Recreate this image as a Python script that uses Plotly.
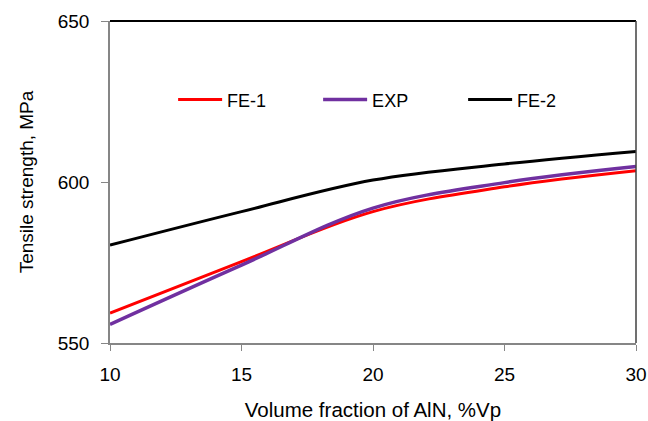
import plotly.graph_objects as go

x_vals = [10, 15, 20, 25, 30]
fe1 = [559.3, 575.3, 590.8, 598.5, 603.5]
exp = [555.8, 574.2, 591.9, 599.8, 604.8]
fe2 = [580.4, 590.8, 600.6, 605.6, 609.5]

series = [("FE-1", fe1, "#FF0000", 3), ("EXP", exp, "#7030A0", 3.5), ("FE-2", fe2, "#000000", 3)]

fig = go.Figure()
for name, vals, color, w in series:
    fig.add_trace(go.Scatter(x=x_vals, y=vals, name=name, mode="lines",
                             line=dict(color=color, width=w, shape="spline", smoothing=1.0)))

font = "Liberation Sans, Arial, sans-serif"
fig.update_layout(
    width=648, height=421,
    margin=dict(l=110, r=12, t=21, b=78),
    paper_bgcolor="white", plot_bgcolor="white",
    font=dict(family=font, color="#000000"),
    showlegend=True,
    legend=dict(orientation="h", x=0.12, y=0.755, xanchor="left", yanchor="middle",
                font=dict(size=18, family=font), itemwidth=44, entrywidth=86, entrywidthmode="pixels",
                bgcolor="rgba(0,0,0,0)"),
    xaxis=dict(range=[10, 30], tickvals=[10, 15, 20, 25, 30], showgrid=False, zeroline=False,
               automargin=False,
               showline=True, linecolor="#868686", linewidth=1.5, ticks="outside", ticklen=6,
               tickcolor="#868686", tickfont=dict(size=19, family=font), ticklabelstandoff=7,
               title=dict(text="Volume fraction of AlN, %Vp", font=dict(size=20.5, family=font), standoff=20)),
    yaxis=dict(range=[550, 650], tickvals=[550, 600, 650], showgrid=False, zeroline=False,
               automargin=False,
               showline=True, linecolor="#868686", linewidth=1.5, ticks="outside", ticklen=7,
               tickcolor="#868686", tickfont=dict(size=19, family=font), ticklabelstandoff=8,
               title=dict(text="Tensile strength, MPa", font=dict(size=19, family=font), standoff=19)),
)
fig.add_shape(type="line", xref="paper", yref="paper", x0=0, x1=1, y0=1, y1=1,
              line=dict(color="#000000", width=2))
fig.add_shape(type="line", xref="paper", yref="paper", x0=1, x1=1, y0=0, y1=1,
              line=dict(color="#404040", width=1.5))

fig.write_html("out.html")
